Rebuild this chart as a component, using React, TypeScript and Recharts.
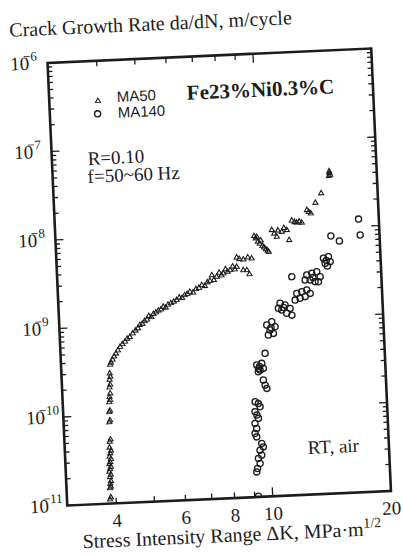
import React from 'react';
import { ScatterChart, Scatter, XAxis, YAxis, ReferenceArea } from 'recharts';

// ---- data: fatigue crack growth, Fe-23%Ni-0.3%C ----
const ma50DeltaK = [
  3.86, 3.88, 3.87, 3.89, 3.88, 3.9, 3.88, 3.9, 3.87, 3.89, 3.91, 3.88, 3.9, 3.92, 3.89, 3.91,
  3.93, 3.9, 3.91, 3.93, 3.92, 3.94, 3.93, 3.95, 3.94, 3.96, 3.95, 3.97, 3.96, 3.98, 3.97, 3.99,
  3.98, 4.0, 4.02, 4.06, 4.1, 4.15, 4.2, 4.26, 4.32, 4.39, 4.45, 4.52, 4.6, 4.68, 4.75, 4.81,
  4.88, 4.95, 5.02, 5.08, 5.15, 5.22, 5.3, 5.38, 5.46, 5.54, 5.62, 5.7, 5.8, 5.9, 6.0, 6.1,
  6.2, 6.3, 6.4, 6.5, 6.62, 6.74, 6.86, 6.98, 7.1, 7.22, 7.33, 7.42, 7.5, 7.63, 7.75, 7.85,
  7.94, 8.05, 8.15, 8.27, 8.4, 8.5, 8.6, 8.62, 8.75, 8.93, 8.96, 9.12, 9.25, 9.2, 9.41, 9.6,
  9.68, 9.75, 9.8, 9.9, 9.97, 10.05, 10.15, 10.25, 10.35, 10.42, 10.66, 10.8, 10.96, 11.05, 11.3, 11.45,
  11.64, 11.77, 12.02, 12.2, 12.37, 12.55, 12.73, 13.16, 13.3, 13.46, 13.86, 14.37, 15.1, 15.16, 15.22, 15.14,
];
const ma50Rate = [
  1.12e-11, 1.18e-11, 1.5e-11, 1.56e-11, 1.68e-11, 1.8e-11, 2.0e-11, 2.12e-11, 2.3e-11, 2.45e-11, 2.6e-11, 2.8e-11, 2.95e-11, 3.2e-11, 3.4e-11, 3.7e-11,
  3.95e-11, 4.3e-11, 5.0e-11, 5.3e-11, 8.3e-11, 8.7e-11, 1.08e-10, 1.12e-10, 1.4e-10, 1.48e-10, 1.6e-10, 1.75e-10, 2.05e-10, 2.2e-10, 2.5e-10, 2.7e-10,
  2.95e-10, 3.7e-10, 3.9e-10, 4.2e-10, 4.55e-10, 4.9e-10, 5.3e-10, 5.8e-10, 6.2e-10, 6.6e-10, 7.1e-10, 7.4e-10, 8.1e-10, 8.7e-10, 9.2e-10, 1.0e-9,
  1.03e-9, 1.1e-9, 1.14e-9, 1.25e-9, 1.21e-9, 1.31e-9, 1.36e-9, 1.42e-9, 1.46e-9, 1.56e-9, 1.52e-9, 1.64e-9, 1.7e-9, 1.76e-9, 1.83e-9, 1.95e-9,
  1.92e-9, 2.06e-9, 2.12e-9, 2.23e-9, 2.18e-9, 2.38e-9, 2.45e-9, 2.62e-9, 2.55e-9, 2.8e-9, 2.9e-9, 3.35e-9, 2.95e-9, 3.2e-9, 3.55e-9, 3.3e-9,
  3.47e-9, 3.85e-9, 3.6e-9, 3.74e-9, 4.1e-9, 3.8e-9, 4.05e-9, 5.16e-9, 4.95e-9, 3.69e-9, 4.86e-9, 3.67e-9, 3.3e-9, 5.1e-9, 4.95e-9, 8.8e-9,
  8.3e-9, 8.6e-9, 7.6e-9, 7.2e-9, 7.8e-9, 6.8e-9, 6.5e-9, 6.2e-9, 5.95e-9, 5.75e-9, 1.01e-8, 9.2e-9, 8.44e-9, 9.9e-9, 9.55e-9, 1.05e-8,
  9.93e-9, 7.64e-9, 1.26e-8, 1.21e-8, 1.19e-8, 1.22e-8, 1.18e-8, 1.63e-8, 1.55e-8, 1.49e-8, 1.95e-8, 2.48e-8, 3.85e-8, 4.15e-8, 3.95e-8, 4.35e-8,
];

const ma140DeltaK = [
  9.2, 9.17, 9.22, 9.37, 9.29, 9.48, 9.4, 9.59, 9.51, 9.25, 9.17, 9.27, 9.19, 9.39, 9.31, 9.22,
  9.51, 9.42, 9.25, 9.94, 9.85, 9.76, 9.5, 9.6, 9.79, 9.43, 9.71, 9.58, 9.52, 9.93, 10.17, 10.48,
  10.28, 10.6, 10.1, 10.41, 10.35, 10.86, 10.98, 11.3, 11.63, 11.07, 11.39, 11.73, 11.2, 12.14, 12.51, 12.88,
  13.13, 12.74, 12.36, 12.0, 11.84, 12.93, 13.32, 13.72, 13.98, 13.55, 13.17, 12.79, 13.82, 13.4, 14.32, 14.75,
  14.88, 14.44, 14.63, 14.55, 15.04, 15.79, 17.76, 17.86,
];
const ma140Rate = [
  1.02e-11, 1.92e-11, 2.1e-11, 2.38e-11, 2.72e-11, 2.95e-11, 3.36e-11, 3.65e-11, 4.0e-11, 4.77e-11, 5.22e-11, 5.93e-11, 6.78e-11, 7.7e-11, 8.4e-11, 9.2e-11,
  1.04e-10, 1.13e-10, 1.19e-10, 1.66e-10, 1.81e-10, 2.07e-10, 2.58e-10, 2.69e-10, 2.8e-10, 3.08e-10, 3.2e-10, 2.95e-10, 2.8e-10, 4.13e-10, 6.62e-10, 6.87e-10,
  7.52e-10, 8.15e-10, 8.6e-10, 9.3e-10, 8.0e-10, 1.31e-9, 1.49e-9, 1.42e-9, 1.29e-9, 1.25e-9, 1.14e-9, 1.08e-9, 1.33e-9, 1.89e-9, 1.96e-9, 2.04e-9,
  1.86e-9, 1.72e-9, 1.66e-9, 1.59e-9, 2.93e-9, 3.01e-9, 3.13e-9, 3.24e-9, 2.84e-9, 2.51e-9, 2.63e-9, 2.65e-9, 2.49e-9, 2.8e-9, 4.56e-9, 4.72e-9,
  4.14e-9, 3.99e-9, 3.71e-9, 4.3e-9, 8.07e-9, 7.0e-9, 1.21e-8, 8.0e-9,
];

// axis values
const xDomain = [3, 20];
const xTicks = [4, 5, 6, 7, 8, 9, 10, 20];
const xTickLabels = [4, 6, 8, 10, 20];
const yDomain = [1e-11, 1e-6];
const yDecadeExponents = [-11, -10, -9, -8, -7, -6];
const yMinorMultipliers = [2, 3, 4, 5, 6, 7, 8, 9];

const yTicks: number[] = [];
yDecadeExponents.forEach((e) => {
  yTicks.push(Math.pow(10, e));
  if (e < -6) yMinorMultipliers.forEach((m) => yTicks.push(m * Math.pow(10, e)));
});

const ma50 = ma50DeltaK.map((dk, i) => ({ dk, rate: ma50Rate[i] }));
const ma140 = ma140DeltaK.map((dk, i) => ({ dk, rate: ma140Rate[i] }));

// ---- layout ----
const W = 403;
const H = 557;
const PLOT_LEFT = 57.25;
const PLOT_RIGHT = 381.25;
const PLOT_TOP = 55.5;
const PLOT_BOTTOM = 498.5;

const INK = '#1c1c1c';
const SERIF = "'Liberation Serif', 'Times New Roman', serif";
const SANS = "'Liberation Sans', Arial, sans-serif";

const Triangle = (props: any) => {
  const { cx, cy } = props;
  if (cx == null || cy == null) return null;
  return (
    <path
      d={`M${cx},${cy - 2.8} L${cx + 2.5},${cy + 1.6} L${cx - 2.5},${cy + 1.6} Z`}
      fill="none"
      stroke={INK}
      strokeWidth={1.1}
    />
  );
};

const Ring = (props: any) => {
  const { cx, cy } = props;
  if (cx == null || cy == null) return null;
  return <circle cx={cx} cy={cy} r={3.1} fill="none" stroke={INK} strokeWidth={1.3} />;
};

const XTick = (props: any) => {
  const { x, payload } = props;
  const v = payload.value;
  const len = v === 10 ? 9 : 5.5;
  return (
    <g>
      {v !== 20 && (
        <>
          <line x1={x} x2={x} y1={PLOT_BOTTOM} y2={PLOT_BOTTOM - len} stroke={INK} strokeWidth={1.3} />
          <line x1={x} x2={x} y1={PLOT_TOP} y2={PLOT_TOP + len} stroke={INK} strokeWidth={1.3} />
        </>
      )}
      {xTickLabels.includes(v) && (
        <text x={x} y={PLOT_BOTTOM + 23.5} textAnchor="middle" fontFamily={SERIF} fontSize={19} fill={INK}>
          {v}
        </text>
      )}
    </g>
  );
};

const YTick = (props: any) => {
  const { y, payload } = props;
  const v = payload.value;
  const exp = Math.log10(v);
  const rounded = Math.round(exp);
  const isMajor = Math.abs(exp - rounded) < 1e-6;
  const len = isMajor ? 8 : 4.5;
  return (
    <g>
      <line x1={PLOT_LEFT} x2={PLOT_LEFT + len} y1={y} y2={y} stroke={INK} strokeWidth={1.3} />
      <line x1={PLOT_RIGHT} x2={PLOT_RIGHT - len} y1={y} y2={y} stroke={INK} strokeWidth={1.3} />
      {isMajor && (
        <text x={20} y={y + 6} fontFamily={SERIF} fontSize={19} fill={INK}>
          10
          <tspan dx={-6} dy={-9} fontSize={13}>
            {'\u2212' + Math.abs(rounded)}
          </tspan>
        </text>
      )}
    </g>
  );
};

export default function App() {
  return (
    <div
      style={{
        position: 'absolute',
        left: 0,
        top: 0,
        width: W,
        height: H,
        background: '#fff',
        transform: 'rotate(-2.55deg)',
        transformOrigin: '219.25px 277px',
      }}
    >
      <ScatterChart width={W} height={H} margin={{ top: PLOT_TOP, right: W - PLOT_RIGHT, bottom: 0, left: 0 }}>
        <XAxis
          type="number"
          dataKey="dk"
          scale="log"
          domain={xDomain}
          allowDataOverflow
          ticks={xTicks}
          interval={0}
          height={H - PLOT_BOTTOM}
          axisLine={false}
          tickLine={false}
          tick={<XTick />}
        />
        <YAxis
          type="number"
          dataKey="rate"
          scale="log"
          domain={yDomain}
          allowDataOverflow
          ticks={yTicks}
          interval={0}
          width={PLOT_LEFT}
          axisLine={false}
          tickLine={false}
          tick={<YTick />}
        />
        <ReferenceArea
          x1={xDomain[0]}
          x2={xDomain[1]}
          y1={yDomain[0]}
          y2={yDomain[1]}
          fill="none"
          fillOpacity={0}
          stroke={INK}
          strokeWidth={2.6}
          ifOverflow="visible"
        />
        <Scatter name="MA50" data={ma50} shape={Triangle} isAnimationActive={false} />
        <Scatter name="MA140" data={ma140} shape={Ring} isAnimationActive={false} />
      </ScatterChart>
      <svg
        width={W}
        height={H}
        style={{ position: 'absolute', left: 0, top: 0, pointerEvents: 'none' }}
      >
        <text x={20.5} y={27.7} fontFamily={SERIF} fontSize={20} fill={INK}>
          Crack Growth Rate da/dN, m/cycle
        </text>
        <text x={71} y={542} fontFamily={SERIF} fontSize={20} fill={INK}>
          Stress Intensity Range ΔK, MPa·m
          <tspan dy={-8} fontSize={14}>1/2</tspan>
        </text>
        <Triangle cx={105.9} cy={95.6} />
        <text x={124.8} y={97.5} fontFamily={SANS} fontSize={15} fill={INK}>MA50</text>
        <Ring cx={105} cy={108.6} />
        <text x={125.1} y={113.5} fontFamily={SANS} fontSize={15} fill={INK}>MA140</text>
        <text x={195} y={98.6} fontFamily={SERIF} fontSize={21} fontWeight="bold" fill={INK}>
          Fe23%Ni0.3%C
        </text>
        <text x={93} y={159.2} fontFamily={SERIF} fontSize={19} fill={INK}>R=0.10</text>
        <text x={92.2} y={177.2} fontFamily={SERIF} fontSize={19} fill={INK}>f=50~60 Hz</text>
        <text x={300} y={457.9} fontFamily={SERIF} fontSize={19} fill={INK}>RT, air</text>
      </svg>
    </div>
  );
}
